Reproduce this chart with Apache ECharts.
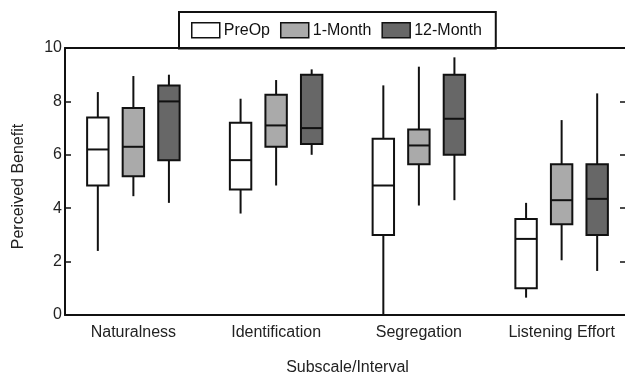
<!DOCTYPE html>
<html>
<head>
<meta charset="utf-8">
<script src="https://cdn.jsdelivr.net/npm/echarts@6/dist/echarts.min.js"></script>
<style>
  html, body { margin: 0; padding: 0; background: #fff; }
  #chart { width: 625px; height: 377px; }
</style>
</head>
<body>
<div id="chart"></div>
<script>
// box stats per subscale: [min, q1, median, q3, max]
var categories = ['Naturalness', 'Identification', 'Segregation', 'Listening Effort'];
var preOp = [[2.4, 4.85, 6.2, 7.4, 8.35], [3.8, 4.7, 5.8, 7.2, 8.1], [0, 3.0, 4.85, 6.6, 8.6], [0.65, 1.0, 2.85, 3.6, 4.2]];
var oneMonth = [[4.45, 5.2, 6.3, 7.75, 8.95], [4.85, 6.3, 7.1, 8.25, 8.8], [4.1, 5.65, 6.35, 6.95, 9.3], [2.05, 3.4, 4.3, 5.65, 7.3]];
var twelveMonth = [[4.2, 5.8, 8.0, 8.6, 9.0], [6.0, 6.4, 7.0, 9.0, 9.2], [4.3, 6.0, 7.35, 9.0, 9.65], [1.65, 3.0, 4.35, 5.65, 8.3]];
var yTicks = [0, 2, 4, 6, 8, 10];

var font = 'Liberation Sans, Arial, Helvetica, sans-serif';

function boxRender(offset, fill) {
    return function (params, api) {
        var c = api.value(0);
        var band = api.size([1, 0])[0];
        var x = api.coord([c, 0])[0] + offset * band;
        var w = band * 0.15;
        var y = function (d) { return api.coord([c, api.value(d)])[1]; };
        var ln = { stroke: '#111', lineWidth: 2 };
        return {
            type: 'group',
            children: [
                { type: 'line', shape: { x1: x, y1: y(1), x2: x, y2: y(2) }, style: ln },
                { type: 'line', shape: { x1: x, y1: y(4), x2: x, y2: y(5) }, style: ln },
                { type: 'rect', shape: { x: x - w / 2, y: y(4), width: w, height: y(2) - y(4) },
                  style: { fill: fill, stroke: '#111', lineWidth: 2 } },
                { type: 'line', shape: { x1: x - w / 2, y1: y(3), x2: x + w / 2, y2: y(3) }, style: ln }
            ]
        };
    };
}

function toData(arr) {
    return arr.map(function (v, i) { return [i].concat(v); });
}

function makeSeries(name, arr, offset, fill) {
    return {
        name: name,
        type: 'custom',
        xAxisIndex: 2,
        yAxisIndex: 2,
        itemStyle: { color: fill, borderColor: '#111', borderWidth: 1.5 },
        encode: { x: 0, y: [1, 2, 3, 4, 5] },
        renderItem: boxRender(offset, fill),
        data: toData(arr)
    };
}

var frameLine = { show: true, onZero: false, lineStyle: { color: '#111', width: 2 } };

var chart = echarts.init(document.getElementById('chart'));
var option = {
    animation: false,
    textStyle: { fontFamily: font },
    legend: {
        left: 179,
        top: 12,
        icon: 'rect',
        itemWidth: 28,
        itemHeight: 15,
        itemGap: 10,
        padding: [10, 14, 10, 12],
        borderColor: '#111',
        borderWidth: 2,
        itemStyle: { borderColor: '#111', borderWidth: 1.5 },
        textStyle: { fontSize: 16, color: '#111', fontFamily: font, padding: [0, 0, 0, -1] },
        data: ['PreOp', '1-Month', '12-Month']
    },
    grid: [
        { left: 65, right: -3, top: 48, bottom: 62, outerBoundsMode: 'none' },
        { left: 62, width: 571, top: 48, bottom: 62, outerBoundsMode: 'none' }
    ],
    xAxis: [
        { gridIndex: 0, type: 'value', min: 0, max: 1, position: 'bottom', axisLine: frameLine,
          axisTick: { show: false }, axisLabel: { show: false }, splitLine: { show: false } },
        { gridIndex: 0, type: 'value', min: 0, max: 1, position: 'top', axisLine: frameLine,
          axisTick: { show: false }, axisLabel: { show: false }, splitLine: { show: false } },
        { gridIndex: 1, type: 'category', data: categories,
          axisLine: { show: false }, axisTick: { show: false },
          axisLabel: { fontSize: 16, color: '#222', margin: 10, fontFamily: font },
          name: 'Subscale/Interval', nameLocation: 'middle', nameGap: 45,
          nameTextStyle: { fontSize: 16, color: '#222', fontFamily: font } }
    ],
    yAxis: [
        { gridIndex: 0, type: 'value', min: yTicks[0], max: yTicks[yTicks.length - 1], interval: 2, position: 'left',
          axisLine: frameLine,
          axisTick: { show: true, inside: true, length: 6, lineStyle: { color: '#111', width: 1.5 } },
          axisLabel: { fontSize: 16, color: '#222', margin: 3, fontFamily: font },
          splitLine: { show: false },
          name: 'Perceived Benefit', nameLocation: 'middle', nameGap: 38,
          nameTextStyle: { fontSize: 16, color: '#222', fontFamily: font, padding: [0, 10, 0, 0] } },
        { gridIndex: 0, type: 'value', min: yTicks[0], max: yTicks[yTicks.length - 1], interval: 2, position: 'right',
          axisLine: frameLine,
          axisTick: { show: true, inside: true, length: 8, lineStyle: { color: '#111', width: 1.5 } },
          axisLabel: { show: false }, splitLine: { show: false } },
        { gridIndex: 1, type: 'value', min: 0, max: 10, show: false }
    ],
    series: [
        makeSeries('PreOp', preOp, -0.249, '#ffffff'),
        makeSeries('1-Month', oneMonth, 0, '#aaaaaa'),
        makeSeries('12-Month', twelveMonth, 0.249, '#676767')
    ]
};
chart.setOption(option);
</script>
</body>
</html>
